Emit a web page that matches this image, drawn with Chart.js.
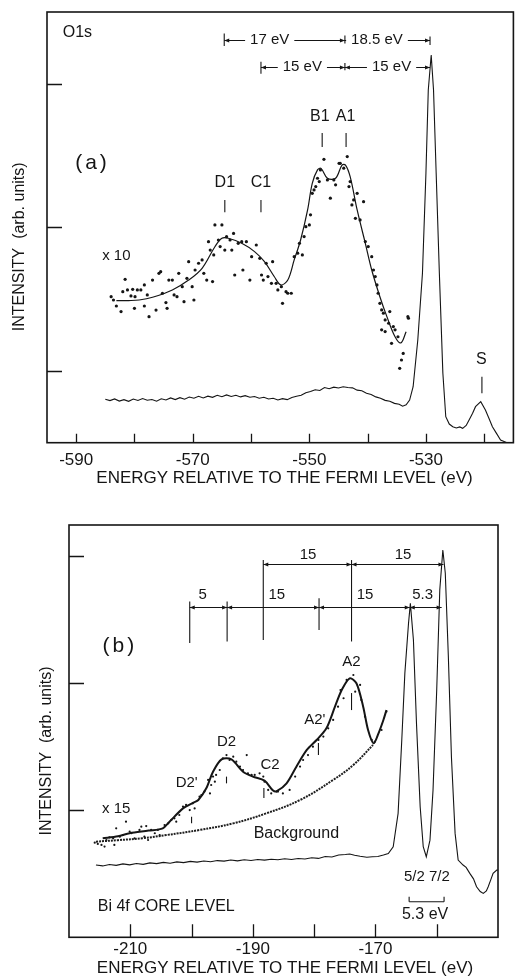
<!DOCTYPE html>
<html><head><meta charset="utf-8">
<script src="https://cdn.jsdelivr.net/npm/chart.js@4.4.1/dist/chart.umd.min.js"></script>
<style>
html,body{margin:0;padding:0;background:#fff;}
#wrap{position:relative;width:515px;height:980px;overflow:hidden;background:#fff;}
canvas{position:absolute;left:0;}
#c1{top:0;width:515px;height:500px;}
#c2{top:500px;width:515px;height:480px;}
</style></head><body>
<div id="wrap"><canvas id="c1" width="515" height="500"></canvas><canvas id="c2" width="515" height="480"></canvas></div>
<script>
const INK = '#151515';
const FONT = '"Liberation Sans", Arial, Helvetica, sans-serif';
const fnt = s => s + 'px ' + FONT;

// ---------- Panel (a): O1s ----------
const O1S_TICKS = [-590,-580,-570,-560,-550,-540,-530,-520];
const O1S_TICK_LABELS = [-590,-570,-550,-530];
const O1S_YTICKS = [50,150,250];

const O1S_E = [-585.0,-584.2,-583.4,-582.6,-581.8,-581.0,-580.2,-579.4,-578.6,-577.8,-577.0,-576.2,-575.4,-574.6,-573.8,-573.0,-572.2,-571.4,-570.6,-569.8,-569.0,-568.2,-567.4,-566.6,-565.8,-565.0,-564.2,-563.4,-562.6,-561.8,-561.0,-560.2,-559.4,-558.6,-557.8,-557.0,-556.2,-555.4,-554.6,-553.8,-553.0,-552.2,-551.4,-550.6,-549.8,-549.0,-548.2,-547.4,-546.6,-545.8,-545.0,-544.2,-543.4,-542.6,-541.8,-541.0,-540.2,-539.4,-538.6,-537.8,-537.0,-536.2,-535.4,-534.6,-534.0,-533.4,-532.8,-532.2,-531.4,-530.6,-530.0,-529.6,-529.1,-528.7,-528.25,-527.7,-527.1,-526.6,-526.0,-525.4,-524.8,-524.2,-523.7,-523.1,-522.6,-522.0,-521.5,-520.6,-519.8,-519.2,-518.6,-517.9,-517.2,-516.1];
const O1S_I = [30.2,29.3,30.5,29.0,30.0,28.8,30.4,29.4,30.8,29.6,30.1,28.9,30.6,29.8,31.2,30.0,31.4,30.3,31.8,31.0,32.3,31.2,32.4,31.6,33.0,32.0,33.3,32.2,33.0,31.9,32.8,31.7,32.2,31.0,31.6,30.4,31.0,29.8,30.7,30.0,31.5,32.4,33.0,34.8,35.6,36.9,36.4,38.4,37.6,38.7,38.1,39.0,38.4,38.2,36.6,36.2,34.4,33.6,31.9,31.0,29.5,28.9,27.4,26.8,25.4,26.4,29.7,39.0,71.5,118,188,245.7,270,245.7,188,118,48.5,18.1,13.0,11.1,10.3,11.0,10.0,12.0,15.8,20.5,25.1,28.6,22.8,17.0,11.1,6.5,1.9,0];

const O1S_FIT_E = [-583.1,-581.0,-579.2,-576.9,-573.5,-570.7,-568.4,-566.2,-565.0,-563.9,-561.6,-559.4,-557.7,-556.0,-554.9,-553.7,-552.6,-551.5,-550.3,-549.5,-548.6,-548.0,-546.9,-545.5,-544.4,-543.8,-543.0,-541.8,-540.4,-539.3,-537.9,-536.7,-535.3,-534.3,-533.4];
const O1S_FIT_I = [98.9,99.0,99.4,101.3,106.4,113.3,121.5,136.5,142.4,142.4,138.9,133.1,126.1,115.6,109.9,113.3,127.3,141.2,162.1,180.7,190.0,191.1,184.2,184.2,193.4,193.4,185.3,162.1,138.9,120.3,101.7,87.8,73.8,69.5,77.3];

const O1S_DOT_E = [-584.0,-583.6,-583.1,-582.3,-582.0,-581.6,-581.2,-580.6,-580.3,-579.9,-579.5,-578.9,-578.3,-578.3,-577.8,-577.5,-580.0,-576.9,-576.3,-575.8,-575.5,-575.2,-574.6,-574.4,-574.1,-573.5,-573.2,-572.7,-572.4,-571.8,-571.5,-571.0,-570.7,-570.1,-569.8,-569.6,-569.0,-568.4,-568.1,-567.6,-567.3,-567.0,-566.6,-566.4,-566.2,-565.6,-565.3,-565.0,-564.5,-564.2,-563.6,-563.3,-563.0,-562.8,-562.2,-561.6,-561.4,-560.8,-560.2,-559.9,-559.1,-558.5,-558.2,-557.9,-557.4,-557.1,-556.5,-556.3,-555.7,-555.4,-554.8,-554.6,-554.0,
-553.7,-553.1,-552.6,-552.0,-551.7,-551.2,-550.9,-550.6,-550.0,-549.8,-549.5,-549.2,-548.9,-548.6,-548.3,-548.1,-547.5,-546.9,-546.4,-545.8,-545.5,-544.9,-544.7,-544.1,-543.5,-543.2,-543.0,-542.7,-542.4,-542.1,-541.8,-541.3,-540.7,-540.4,-539.9,-539.3,-539.0,-538.7,-538.4,-538.2,-537.9,-537.6,-537.3,-537.0,-537.6,-537.0,-536.4,-536.2,-535.6,-535.3,-533.0,
-535.9,-534.8,-534.5,-534.2,-533.9,-533.1];
const O1S_DOT_I = [101.7,99.4,95.2,91.3,105.2,113.8,106.4,102.2,106.8,101.7,106.4,106.4,109.9,95.2,102.9,87.8,93.6,113.3,92.4,118.0,119.1,104.1,97.6,93.6,113.3,113.3,102.9,101.7,118.0,108.7,98.2,114.5,126.1,108.7,99.4,120.3,125.0,127.3,118.0,113.3,140.0,134.2,112.2,130.8,151.7,141.2,136.6,151.7,134.2,143.5,141.2,134.2,145.8,116.8,138.9,140.0,120.3,140.0,113.3,129.6,137.7,128.4,116.8,113.3,125.0,115.7,111.0,126.1,111.0,106.4,108.7,97.1,105.2,
104.1,104.1,129.6,132.0,138.9,130.8,143.6,150.5,151.7,158.7,173.7,176.1,178.4,184.2,181.9,190.0,197.4,183.0,170.3,183.0,179.6,194.6,194.6,191.2,199.3,178.4,181.9,165.6,169.1,156.3,173.7,155.2,167.9,140.1,136.6,129.6,120.3,115.7,109.9,104.1,97.1,92.5,90.2,85.5,78.6,77.4,83.2,91.3,80.9,78.6,86.7,
69.2,73.8,51.8,57.6,62.2,87.8];

// ---------- Panel (b): Bi 4f ----------
const BI_TICKS = [-210,-200,-190,-180,-170,-160];
const BI_TICK_LABELS = [-210,-190,-170];
const BI_YTICKS = [100,200,300];

const BI_E = [-215.6,-214.5,-213.4,-212.3,-211.2,-210.1,-209.0,-207.9,-206.8,-205.7,-204.6,-203.5,-202.4,-201.3,-200.2,-199.1,-198.0,-196.9,-195.8,-194.7,-193.6,-192.5,-191.4,-190.3,-189.2,-188.1,-187.0,-185.9,-184.8,-183.7,-182.6,-181.5,-180.4,-179.3,-178.2,-177.1,-176.0,-174.9,-174.2,-173.4,-172.5,-171.4,-170.5,-169.6,-168.7,-167.9,-167.1,-166.3,-165.7,-165.2,-164.6,-164.3,-163.8,-163.3,-162.7,-162.2,-161.7,-161.1,-160.6,-160.0,-159.5,-159.0,-158.6,-158.1,-157.6,-157.0,-156.5,-155.7,-155.2,-154.6,-154.0,-153.5,-152.9,-152.4,-151.9,-151.6,-151.2,-150.8,-150.2,-150.0];
const BI_I = [56.9,56.2,57.3,56.6,57.8,57.0,58.1,57.4,58.6,58.0,59.0,58.3,59.4,58.8,59.8,59.2,60.1,59.5,60.4,60.0,60.8,60.2,61.0,60.5,61.3,60.8,61.5,61.0,61.8,61.3,62.0,61.6,62.6,62.1,63.6,63.2,64.8,65.2,65.6,64.6,63.8,63.0,63.4,63.6,64.8,66.0,71.3,97.6,155.3,207.8,247.2,262.9,234.0,168.4,102.8,71.3,63.4,76.5,115.9,194.7,273.4,304.9,286.6,220.9,142.2,81.8,60.8,56.9,55.0,50.3,46.0,39.8,36.0,34.6,36.5,39.8,45.0,50.3,52.9,53.0];

const BI_FIT_E = [-214.5,-212.0,-210.1,-207.0,-204.7,-203.6,-201.4,-199.7,-198.9,-197.6,-196.5,-195.1,-193.5,-191.6,-190.0,-188.1,-186.7,-186.1,-184.5,-182.9,-181.2,-179.6,-178.0,-176.6,-175.5,-174.2,-173.1,-172.0,-171.2,-170.3,-169.5,-168.7,-168.2];
const BI_FIT_I = [77.9,79.6,81.9,84.0,85.8,91.0,101.5,106.0,108.1,117.3,130.4,140.1,140.1,130.4,126.5,123.3,115.5,115.0,121.2,134.3,147.5,155.3,164.5,181.6,194.7,203.9,200.0,181.6,163.2,152.7,160.6,171.1,179.0];

const BI_BG_E = [-215.6,-212.0,-208.0,-204.1,-198.7,-193.2,-187.8,-182.3,-176.9,-173.6,-170.4];
const BI_BG_I = [75.3,76.5,78.0,80.5,84.5,89.7,97.6,108.1,123.9,135.7,151.4];

const BI_DOT_E = [-215.8,-215.3,-214.7,-214.2,-213.9,-213.4,-212.8,-212.6,-212.3,-211.7,-211.2,-210.7,-210.1,-209.8,-209.3,-208.5,-208.2,-207.7,-207.4,-207.1,-206.6,-206.0,-205.5,-205.2,-204.4,-203.8,-203.3,-202.8,-202.5,-202.0,-201.4,-200.9,-200.3,-199.8,-199.5,-198.7,-198.4,-197.9,-197.3,-197.0,-196.8,-196.5,-196.2,-196.0,-195.4,-194.9,-194.3,-193.8,-193.2,-192.7,-192.1,-191.6,-191.0,-190.8,-190.2,-189.7,-188.9,-188.3,-188.1,-187.5,-187.0,-186.1,
-185.9,-185.1,-184.0,-183.1,-182.3,-181.8,-181.0,-180.2,-179.3,-178.5,-177.7,-176.9,-176.1,-175.7,-175.2,-174.7,-173.6,-173.3,-172.5,-172.3,-171.7,-170.6,-170.1,-169.0,-168.2];
const BI_DOT_I = [74.5,73.5,72.7,71.4,76.6,78.7,77.9,72.7,85.8,79.2,80.5,91.0,83.2,81.9,77.9,84.5,87.1,79.2,87.6,76.6,84.5,81.9,84.5,80.5,88.4,89.7,92.4,93.7,91.0,96.3,102.9,104.2,100.2,105.5,101.5,110.7,112.0,114.7,123.9,113.3,119.9,126.5,122.5,127.8,131.7,140.9,143.5,139.6,142.2,138.3,134.4,131.7,143.5,129.1,127.8,127.8,129.1,126.5,122.5,116.0,113.3,114.7,
114.7,113.3,116.0,126.5,134.4,139.6,143.5,150.1,155.4,158.0,164.5,171.1,181.6,194.7,188.2,202.6,206.5,193.4,198.7,186.9,173.7,155.4,154.0,163.2,177.7];

const pts = (xs, ys) => xs.map((x, i) => ({x: x, y: ys[i]}));

function makeDecor(spec) {
  return {
    id: 'decor',
    afterDatasetsDraw(chart) {
      const ctx = chart.ctx, ca = chart.chartArea, xs = chart.scales.x, ys = chart.scales.y;
      const X = v => xs.getPixelForValue(v), Y = v => ys.getPixelForValue(v);
      ctx.save();
      ctx.strokeStyle = INK; ctx.fillStyle = INK;
      ctx.lineWidth = 1.3;
      ctx.beginPath();
      xs.ticks.forEach(t => { const p = Math.round(X(t.value)) + 0.5; ctx.moveTo(p, ca.bottom); ctx.lineTo(p, ca.bottom - spec.xTick); });
      ys.ticks.forEach(t => { const p = Math.round(Y(t.value)) + 0.5; ctx.moveTo(ca.left, p); ctx.lineTo(ca.left + spec.yTick, p); });
      ctx.stroke();
      ctx.lineWidth = spec.box;
      ctx.strokeRect(ca.left, ca.top, ca.right - ca.left, ca.bottom - ca.top);
      ctx.lineWidth = 1.1;
      spec.segs.forEach(s => { ctx.beginPath(); ctx.moveTo(X(s[0]), Y(s[1])); ctx.lineTo(X(s[2]), Y(s[3])); ctx.stroke(); });
      spec.arrows.forEach(a => {
        const x1 = X(a[0]), x2 = X(a[1]), yy = Math.round(Y(a[2])) + 0.5;
        ctx.beginPath(); ctx.moveTo(x1, yy); ctx.lineTo(x2, yy); ctx.stroke();
        ctx.beginPath();
        ctx.moveTo(x1, yy); ctx.lineTo(x1 + 5, yy - 2); ctx.lineTo(x1 + 5, yy + 2); ctx.closePath();
        ctx.moveTo(x2, yy); ctx.lineTo(x2 - 5, yy - 2); ctx.lineTo(x2 - 5, yy + 2); ctx.closePath();
        ctx.fill();
      });
      ctx.textBaseline = 'middle';
      spec.labels.forEach(l => {
        ctx.font = fnt(l.s || 15);
        ctx.textAlign = l.a || 'center';
        if ('letterSpacing' in ctx) ctx.letterSpacing = (l.ls || 0) + 'px';
        const px = X(l.x), py = Y(l.y);
        if (l.bg) {
          const w = ctx.measureText(l.t).width;
          ctx.fillStyle = '#fff'; ctx.fillRect(px - w / 2 - 5, py - 7, w + 10, 14); ctx.fillStyle = INK;
        }
        ctx.fillText(l.t, px, py);
      });
      if ('letterSpacing' in ctx) ctx.letterSpacing = '0px';
      ctx.textAlign = 'center';
      ctx.font = fnt(17);
      ctx.fillText(spec.xTitle.t, spec.xTitle.x, spec.xTitle.y);
      ctx.font = fnt(16);
      ctx.save();
      ctx.translate(ca.left + spec.yTitle.dx, (ca.top + ca.bottom) / 2 + spec.yTitle.dy);
      ctx.rotate(-Math.PI / 2);
      ctx.fillText(spec.yTitle.t, 0, 0);
      ctx.restore();
      ctx.restore();
    }
  };
}

const specA = {
  xTick: 9, yTick: 15, box: 1.6,
  yTitle: {t: 'INTENSITY  (arb. units)', dx: -27, dy: 19.5},
  xTitle: {t: 'ENERGY RELATIVE TO THE FERMI LEVEL (eV)', x: 284.5, y: 478},
  segs: [
    [-564.5, 169.1, -564.5, 160.5], [-558.3, 169.1, -558.3, 160.5],
    [-547.8, 215.7, -547.8, 206.0], [-543.7, 215.7, -543.7, 206.0],
    [-520.4, 46.0, -520.4, 34.4],
    [-564.6, 285.0, -564.6, 276.3], [-543.9, 283.6, -543.9, 278.0], [-529.3, 283.0, -529.3, 277.0],
    [-558.3, 265.4, -558.3, 257.0], [-543.9, 264.5, -543.9, 259.5]
  ],
  arrows: [
    [-564.6, -543.9, 280.5], [-543.9, -529.3, 280.5],
    [-558.3, -543.9, 261.9], [-543.9, -529.3, 261.9]
  ],
  labels: [
    {t: 'O1s', x: -592.3, y: 286, a: 'left', s: 16},
    {t: '(a)', x: -587.2, y: 194.8, s: 21, ls: 3},
    {t: 'D1', x: -564.5, y: 181.5, s: 16},
    {t: 'C1', x: -558.3, y: 181.5, s: 16},
    {t: 'B1', x: -548.2, y: 226.9, s: 16},
    {t: 'A1', x: -543.8, y: 226.9, s: 16},
    {t: 'x 10', x: -583.1, y: 130, s: 15},
    {t: 'S', x: -520.5, y: 57.7, s: 16},
    {t: '17 eV', x: -556.8, y: 280.5, s: 15, bg: true},
    {t: '18.5 eV', x: -538.4, y: 280.5, s: 15, bg: true},
    {t: '15 eV', x: -551.2, y: 261.9, s: 15, bg: true},
    {t: '15 eV', x: -535.9, y: 261.9, s: 15, bg: true}
  ]
};

const specB = {
  xTick: 13, yTick: 15, box: 1.6,
  yTitle: {t: 'INTENSITY  (arb. units)', dx: -22.3, dy: 19.8},
  xTitle: {t: 'ENERGY RELATIVE TO THE FERMI LEVEL (eV)', x: 285, y: 468.3},
  segs: [
    [-200.3, 264.3, -200.3, 231.7], [-194.2, 264.3, -194.2, 232.9],
    [-188.3, 297.0, -188.3, 234.1], [-179.2, 267.0, -179.2, 242.0],
    [-173.9, 297.0, -173.9, 232.9],
    [-200.0, 95.0, -200.0, 89.8], [-194.3, 126.5, -194.3, 121.2],
    [-188.2, 117.6, -188.2, 109.7], [-179.3, 152.9, -179.3, 143.5],
    [-173.9, 192.3, -173.9, 178.9],
    [-164.5, 28.0, -158.8, 28.0], [-164.5, 32.0, -164.5, 28.0], [-158.8, 32.0, -158.8, 28.0]
  ],
  arrows: [
    [-188.3, -173.9, 293.7], [-173.9, -158.9, 293.7],
    [-200.3, -194.2, 259.8], [-194.2, -179.2, 259.8], [-179.2, -164.4, 259.8], [-164.4, -159.2, 259.8]
  ],
  labels: [
    {t: '15', x: -181.0, y: 301, s: 15},
    {t: '15', x: -165.5, y: 301, s: 15},
    {t: '5', x: -198.2, y: 269.5, s: 15},
    {t: '15', x: -186.1, y: 269.5, s: 15},
    {t: '15', x: -171.7, y: 269.5, s: 15},
    {t: '5.3', x: -162.3, y: 269.5, s: 15},
    {t: '(b)', x: -211.7, y: 228.8, s: 21, ls: 3},
    {t: 'A2', x: -173.9, y: 217, s: 15},
    {t: "A2'", x: -179.9, y: 171.1, s: 15},
    {t: 'C2', x: -187.2, y: 135.7, s: 15},
    {t: 'D2', x: -194.3, y: 154, s: 15},
    {t: "D2'", x: -200.8, y: 121.3, s: 15},
    {t: 'x 15', x: -212.3, y: 100.8, s: 15},
    {t: 'Background', x: -182.9, y: 81.9, s: 16},
    {t: 'Bi 4f CORE LEVEL', x: -215.3, y: 24.1, a: 'left', s: 16},
    {t: '5/2 7/2', x: -161.6, y: 47.7, s: 15},
    {t: '5.3 eV', x: -161.9, y: 17.6, s: 16}
  ]
};

function axisX(min, max, ticks, labels, h, pad) {
  return {
    type: 'linear', min: min, max: max,
    grid: {display: false}, border: {display: false},
    afterBuildTicks: s => { s.ticks = ticks.map(v => ({value: v})); },
    afterFit: s => { s.height = h; },
    ticks: {autoSkip: false, maxRotation: 0, minRotation: 0, padding: pad, color: INK,
      font: {family: FONT, size: 17},
      callback: v => labels.includes(v) ? String(v) : ''}
  };
}
function axisY(min, max, ticks, w) {
  return {
    type: 'linear', min: min, max: max,
    grid: {display: false}, border: {display: false},
    afterBuildTicks: s => { s.ticks = ticks.map(v => ({value: v})); },
    afterFit: s => { s.width = w; },
    ticks: {display: false}
  };
}
const common = {
  responsive: false, animation: false, devicePixelRatio: 1,
  plugins: {legend: {display: false}, tooltip: {enabled: false}},
  elements: {point: {hoverRadius: 0}}
};

new Chart(document.getElementById('c1'), {
  type: 'scatter',
  data: {datasets: [
    {data: pts(O1S_E, O1S_I), showLine: true, borderColor: INK, borderWidth: 1.1, pointRadius: 0, tension: 0},
    {data: pts(O1S_FIT_E, O1S_FIT_I), showLine: true, borderColor: INK, borderWidth: 1.2, pointRadius: 0, tension: 0.35},
    {data: pts(O1S_DOT_E, O1S_DOT_I), showLine: false, pointRadius: 1.6, pointBackgroundColor: INK, pointBorderWidth: 0}
  ]},
  options: Object.assign({}, common, {
    layout: {padding: {top: 12, left: 0, right: 0, bottom: 0}},
    scales: {x: axisX(-595, -515, O1S_TICKS, O1S_TICK_LABELS, 57.3, -1), y: axisY(0, 300, O1S_YTICKS, 47)}
  }),
  plugins: [makeDecor(specA)]
});

new Chart(document.getElementById('c2'), {
  type: 'scatter',
  data: {datasets: [
    {data: pts(BI_E, BI_I), showLine: true, borderColor: INK, borderWidth: 1.1, pointRadius: 0, tension: 0},
    {data: pts(BI_BG_E, BI_BG_I), showLine: true, borderColor: '#1e1e1e', borderWidth: 2, borderDash: [2, 1], pointRadius: 0, tension: 0.4},
    {data: pts(BI_FIT_E, BI_FIT_I), showLine: true, borderColor: INK, borderWidth: 2, pointRadius: 0, tension: 0.3},
    {data: pts(BI_DOT_E, BI_DOT_I), showLine: false, pointRadius: 1.1, pointBackgroundColor: INK, pointBorderWidth: 0}
  ]},
  options: Object.assign({}, common, {
    layout: {padding: {top: 25, left: 0, right: 17, bottom: 0}},
    scales: {x: axisX(-220, -150, BI_TICKS, BI_TICK_LABELS, 42.7, -6), y: axisY(0, 324.6, BI_YTICKS, 69)}
  }),
  plugins: [makeDecor(specB)]
});
</script>
</body></html>
